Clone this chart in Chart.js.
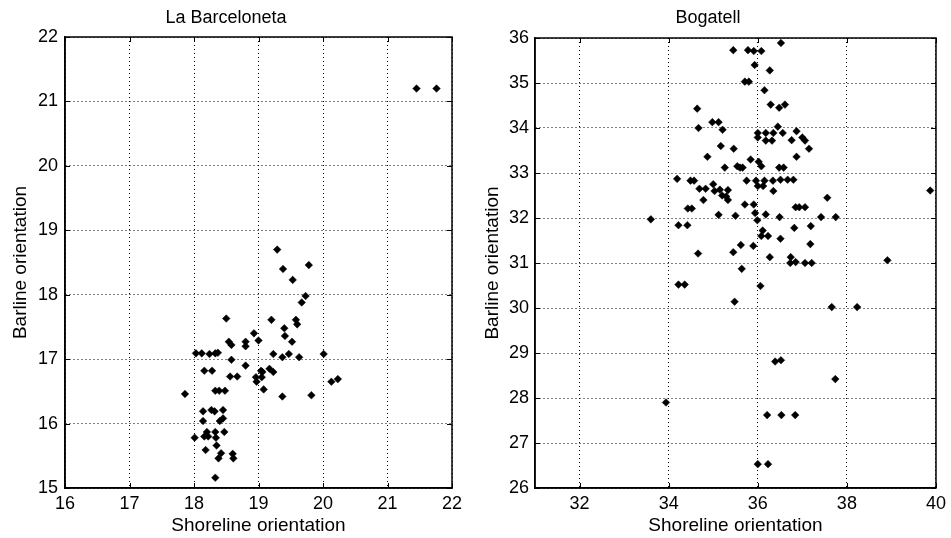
<!DOCTYPE html>
<html>
<head>
<meta charset="utf-8">
<script src="https://cdn.jsdelivr.net/npm/chart.js@4.4.1/dist/chart.umd.min.js"></script>
<style>
  body { margin: 0; background: #fff; }
  canvas { position: absolute; top: 0; }
  #left { left: 0; }
  #right { left: 475px; }
</style>
</head>
<body>
<canvas id="left" width="475" height="538"></canvas>
<canvas id="right" width="476" height="538"></canvas>
<script>
// La Barceloneta: shoreline (x) vs barline (y) orientation
const barcShore = [
  21.45, 21.76, 19.29, 19.38, 19.78, 19.53, 19.73, 19.67, 18.50, 19.20,
  19.58, 19.60, 19.40, 19.41, 19.52, 18.93, 19.00, 18.54, 18.58, 18.80,
  18.80, 18.03, 18.12, 18.24, 18.33, 18.37, 19.23, 19.37, 19.47, 19.63,
  20.01, 18.58, 18.16, 18.28, 18.80, 18.56, 18.67, 19.04, 19.06, 19.17,
  19.23, 19.05, 18.97, 18.96, 19.08, 19.37, 19.82, 20.13, 20.23, 17.86,
  18.33, 18.39, 18.48, 18.14, 18.27, 18.32, 18.45, 18.14, 18.40, 18.45,
  18.01, 18.16, 18.20, 18.22, 18.33, 18.34, 18.47, 18.18, 18.35, 18.38,
  18.42, 18.60, 18.61, 18.33
];
const barcBar = [
  21.20, 21.20, 18.70, 18.40, 18.46, 18.23, 17.98, 17.88, 17.63, 17.61,
  17.61, 17.54, 17.48, 17.36, 17.27, 17.40, 17.29, 17.27, 17.22, 17.27,
  17.20, 17.09, 17.09, 17.08, 17.09, 17.10, 17.08, 17.03, 17.08, 17.03,
  17.08, 16.99, 16.82, 16.82, 16.90, 16.73, 16.73, 16.82, 16.80, 16.85,
  16.80, 16.72, 16.65, 16.72, 16.53, 16.42, 16.44, 16.65, 16.69, 16.46,
  16.51, 16.51, 16.51, 16.19, 16.21, 16.19, 16.21, 16.04, 16.04, 16.08,
  15.78, 15.80, 15.87, 15.80, 15.87, 15.78, 15.87, 15.59, 15.66, 15.46,
  15.54, 15.53, 15.46, 15.16
];

// Bogatell
const bogaShore = [
  35.45, 35.78, 35.91, 36.08, 36.52, 35.93, 36.27, 35.71, 35.80, 36.15,
  36.29, 36.48, 36.61, 34.64, 34.67, 34.98, 35.12, 35.21, 36.45, 36.00,
  36.00, 36.18, 36.18, 36.32, 36.35, 36.56, 36.76, 36.87, 37.00, 37.06,
  37.15, 35.17, 35.46, 34.87, 36.87, 35.84, 36.02, 36.08, 35.26, 35.54,
  35.60, 35.66, 36.48, 36.58, 34.19, 34.49, 34.57, 35.75, 35.96, 36.15,
  36.34, 36.51, 36.67, 36.80, 35.00, 34.69, 34.83, 36.00, 36.12, 36.35,
  35.03, 35.15, 35.33, 35.20, 35.29, 35.33, 34.78, 37.56, 39.87, 34.43,
  34.52, 35.71, 35.91, 36.85, 36.93, 37.06, 33.60, 35.12, 35.50, 35.94,
  35.99, 36.18, 36.49, 37.42, 37.75, 34.22, 34.42, 36.82, 37.19, 36.11,
  36.08, 36.23, 36.51, 35.62, 35.90, 37.18, 34.66, 35.45, 36.27, 36.74,
  36.73, 36.85, 37.06, 37.21, 38.91, 35.64, 34.22, 34.36, 36.06, 35.48,
  37.66, 38.23, 36.39, 36.52, 37.74, 33.94, 36.21, 36.53, 36.84, 36.00,
  36.23
];
const bogaBar = [
  35.73, 35.73, 35.71, 35.71, 35.89, 35.40, 35.28, 35.03, 35.03, 34.84,
  34.52, 34.45, 34.52, 34.43, 34.00, 34.13, 34.13, 33.96, 34.03, 33.89,
  33.79, 33.89, 33.72, 33.72, 33.89, 33.89, 33.73, 33.93, 33.79, 33.72,
  33.54, 33.60, 33.54, 33.36, 33.36, 33.30, 33.25, 33.15, 33.12, 33.15,
  33.12, 33.12, 33.12, 33.12, 32.87, 32.83, 32.83, 32.83, 32.83, 32.83,
  32.83, 32.85, 32.85, 32.85, 32.75, 32.65, 32.65, 32.71, 32.71, 32.60,
  32.60, 32.63, 32.62, 32.50, 32.48, 32.40, 32.40, 32.45, 32.61, 32.21,
  32.21, 32.30, 32.30, 32.24, 32.24, 32.24, 31.97, 32.07, 32.05, 32.11,
  31.95, 32.08, 32.02, 32.02, 32.02, 31.84, 31.84, 31.78, 31.82, 31.72,
  31.60, 31.60, 31.54, 31.40, 31.38, 31.42, 31.21, 31.24, 31.13, 31.13,
  31.00, 31.02, 31.00, 31.00, 31.06, 30.87, 30.52, 30.52, 30.49, 30.14,
  30.02, 30.02, 28.81, 28.84, 28.42, 27.90, 27.62, 27.62, 27.62, 26.53,
  26.53
];

const barcXTicks = [16, 17, 18, 19, 20, 21, 22];
const barcYTicks = [15, 16, 17, 18, 19, 20, 21, 22];
const bogaXTicks = [32, 34, 36, 38, 40];
const bogaYTicks = [26, 27, 28, 29, 30, 31, 32, 33, 34, 35, 36];

Chart.defaults.font.family = "'Liberation Sans', Arial, sans-serif";
Chart.defaults.color = '#000';

// solid box round the plot area plus small inward ticks, matlab style
const boxPlugin = {
  id: 'box',
  afterDatasetsDraw(chart) {
    const { ctx, chartArea: a, scales } = chart;
    ctx.save();
    ctx.strokeStyle = '#000';
    ctx.lineWidth = 1.5;
    ctx.strokeRect(a.left, a.top, a.right - a.left, a.bottom - a.top);
    ctx.lineWidth = 1;
    ctx.beginPath();
    scales.x.ticks.forEach(t => {
      const px = Math.round(scales.x.getPixelForValue(t.value)) + 0.5;
      ctx.moveTo(px, a.bottom); ctx.lineTo(px, a.bottom - 5);
      ctx.moveTo(px, a.top); ctx.lineTo(px, a.top + 5);
    });
    scales.y.ticks.forEach(t => {
      const py = Math.round(scales.y.getPixelForValue(t.value)) + 0.5;
      ctx.moveTo(a.left, py); ctx.lineTo(a.left + 5, py);
      ctx.moveTo(a.right, py); ctx.lineTo(a.right - 5, py);
    });
    ctx.stroke();
    ctx.restore();
  }
};

function makeChart(id, cfg) {
  return new Chart(document.getElementById(id), {
    type: 'scatter',
    data: {
      datasets: [{
        data: cfg.xs.map((x, i) => ({ x: x, y: cfg.ys[i] })),
        pointStyle: 'rectRot',
        pointRadius: 3.8,
        backgroundColor: '#000',
        borderColor: '#000',
        borderWidth: 0.5
      }]
    },
    options: {
      responsive: false,
      animation: false,
      layout: { padding: { left: 0, right: cfg.padRight, top: 0, bottom: 0 } },
      plugins: {
        legend: { display: false },
        tooltip: { enabled: false },
        title: {
          display: true,
          text: cfg.title,
          font: { size: 18, weight: 'normal' },
          padding: { top: 7, bottom: cfg.titlePadBottom }
        }
      },
      scales: {
        x: {
          type: 'linear',
          min: cfg.xMin,
          max: cfg.xMax,
          afterBuildTicks: s => { s.ticks = cfg.xTicks.map(v => ({ value: v })); },
          afterFit: s => { s.height = 50; },
          grid: { color: '#000', lineWidth: 1, drawTicks: false },
          border: { display: true, color: '#000', width: 1.5, dash: [1, 3] },
          ticks: { padding: 5, font: { size: 18 }, color: '#000' },
          title: {
            display: true,
            text: 'Shoreline orientation',
            font: { size: 19 },
            padding: { top: 0, bottom: 1 }
          }
        },
        y: {
          type: 'linear',
          min: cfg.yMin,
          max: cfg.yMax,
          afterBuildTicks: s => { s.ticks = cfg.yTicks.map(v => ({ value: v })); },
          afterFit: s => { s.width = cfg.yWidth; },
          grid: { color: '#000', lineWidth: 1, drawTicks: false },
          border: { display: true, color: '#000', width: 1.5, dash: [1, 3] },
          ticks: { padding: cfg.yTickPad, font: { size: 18 }, color: '#000' },
          title: {
            display: true,
            text: 'Barline orientation',
            font: { size: 19 },
            padding: { top: cfg.yTitlePad, bottom: 0 }
          }
        }
      }
    },
    plugins: [boxPlugin]
  });
}

makeChart('left', {
  title: 'La Barceloneta',
  xs: barcShore, ys: barcBar,
  xMin: 16, xMax: 22, yMin: 15, yMax: 22,
  xTicks: barcXTicks, yTicks: barcYTicks,
  yWidth: 65, yTickPad: 7, yTitlePad: 9,
  padRight: 23, titlePadBottom: 8.4
});

makeChart('right', {
  title: 'Bogatell',
  xs: bogaShore, ys: bogaBar,
  xMin: 31, xMax: 40, yMin: 26, yMax: 36,
  xTicks: bogaXTicks, yTicks: bogaYTicks,
  yWidth: 60, yTickPad: 6, yTitlePad: 6,
  padRight: 10, titlePadBottom: 9.4
});
</script>
</body>
</html>
